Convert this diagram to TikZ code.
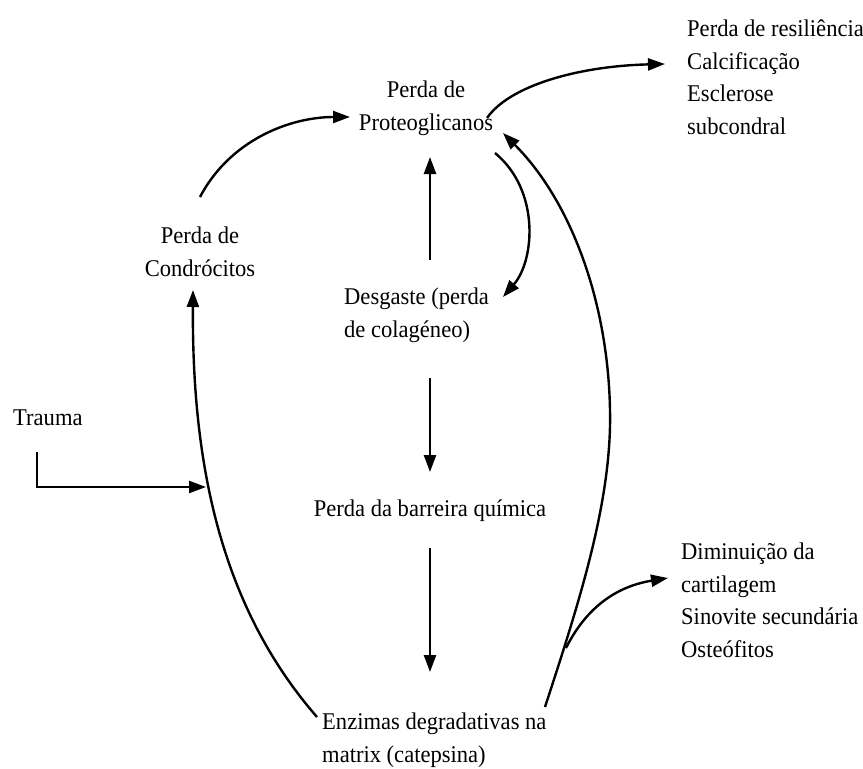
\documentclass[tikz,border=0pt]{standalone}
\usepackage{fontspec}
\setmainfont{Liberation Serif}[FakeStretch=0.94]
\usetikzlibrary{arrows.meta}

\tikzset{every path/.style={line width=2.4pt},
  lbl/.style={inner sep=0pt, font=\fontsize{24}{32.5}\selectfont},
  flow/.style={-{Triangle[length=17pt,width=12pt]}}}

\begin{document}
\begin{tikzpicture}[x=1pt,y=-1pt]
\useasboundingbox (0,0) rectangle (863,769);
\node[lbl,anchor=base,align=center] (prot) at (426,130) {Perda de\\Proteoglicanos};
\node[lbl,anchor=base,align=center] (cond) at (200,276) {Perda de\\Condrócitos};
\node[lbl,anchor=base west,align=left] (desg) at (343,337) {Desgaste (perda\\de colagéneo)};
\node[lbl,anchor=base] (barr) at (430,516) {Perda da barreira química};
\node[lbl,anchor=base west,align=left] (enz) at (321,762) {Enzimas degradativas na\\matrix (catepsina)};
\node[lbl,anchor=base west] (trauma) at (12,425) {Trauma};
\node[lbl,anchor=base west,align=left] (res) at (686,134) {Perda de resiliência\\Calcificação\\Esclerose\\subcondral};
\node[lbl,anchor=base west,align=left] (dim) at (680,657) {Diminuição da\\cartilagem\\Sinovite secundária\\Osteófitos};
\coordinate (hit) at (206,487);
\coordinate (fork) at (566,648);
\draw[flow] ([shift={(0,-79)}]cond.base) .. controls (230,140) and (290,117) .. ([shift={(-76,-13)}]prot.base);
\draw[flow] ([shift={(61,-12)}]prot.base) .. controls (510,85) and (580,66) .. ([shift={(-21,-70)}]res.base west);
\draw[flow] ([shift={(87,-77)}]desg.base west) -- ([shift={(4,27)}]prot.base);
\draw[flow] ([shift={(69,23)}]prot.base) .. controls (540,190) and (535,260) .. ([shift={(160,-40)}]desg.base west);
\draw[flow] ([shift={(87,41)}]desg.base west) -- ([shift={(0,-44)}]barr.base);
\draw[flow] ([shift={(0,32)}]barr.base) -- ([shift={(109,-90)}]enz.base west);
\draw[flow] ([shift={(-4,-45)}]enz.base west) .. controls (215,600) and (192,450) .. ([shift={(-7,14)}]cond.base);
\draw[flow] ([shift={(25,27)}]trauma.base west) |- (hit);
\draw[flow] ([shift={(224,-55)}]enz.base west) .. controls (580,600) and (612,500) .. (610,410)
  .. controls (608,300) and (570,200) .. ([shift={(77,3)}]prot.base);
\draw[flow] (fork) .. controls (590,600) and (625,585) .. ([shift={(-12,-79)}]dim.base west);
\end{tikzpicture}
\end{document}
